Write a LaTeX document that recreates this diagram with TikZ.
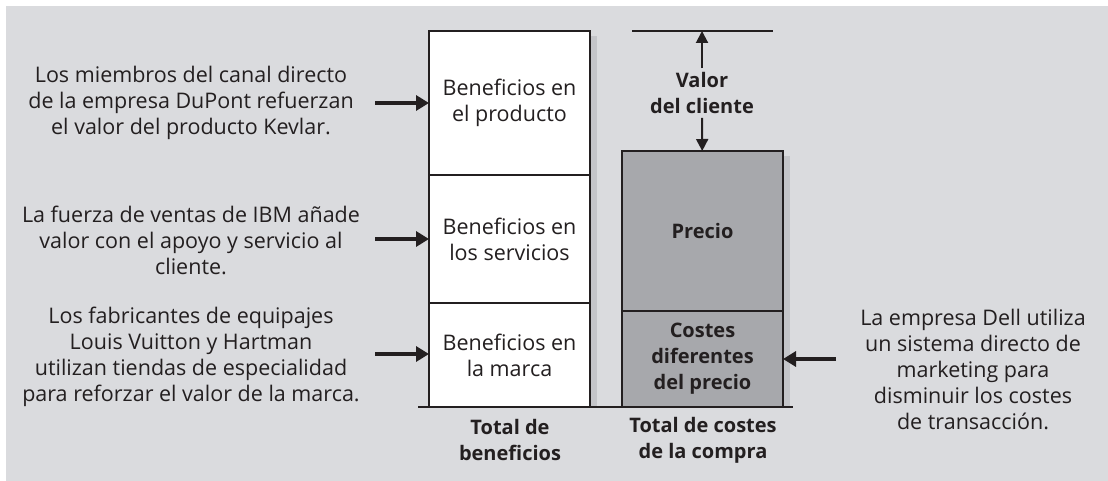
\documentclass[tikz,border=0pt]{standalone}
\usepackage{fontspec}
\setmainfont{Open Sans}
\usepackage{tikz}
\usetikzlibrary{arrows.meta, positioning, backgrounds}

\definecolor{ink}{RGB}{35,31,32}
\definecolor{bggray}{RGB}{218,219,222}
\definecolor{bglight}{RGB}{243,243,244}
\definecolor{costgray}{RGB}{167,168,172}
\definecolor{shadowgray}{RGB}{196,197,201}

\begin{document}
\begin{tikzpicture}[
    x=1pt, y=-1pt,
    font=\fontsize{21.5}{26}\selectfont,
    txt/.style={align=center, text=ink, inner sep=0pt},
    head/.style={txt, font=\fontsize{20}{26}\selectfont\bfseries},
    bar/.style={draw=ink, line width=1.6pt, outer sep=0pt, inner sep=0pt, minimum width=161pt, align=center, text=ink},
    benef/.style={bar, fill=white},
    coste/.style={bar, fill=costgray, font=\fontsize{20}{26}\selectfont\bfseries},
    flow/.style={-{Triangle[length=13pt, width=15pt]}, line width=3.6pt, draw=ink},
    gap/.style={-{Triangle[length=12pt, width=12pt]}, line width=2pt, draw=ink},
    rule/.style={draw=ink, line width=1.6pt},
    node distance=0pt
]
\useasboundingbox (0,0) rectangle (1108,481);

% columna de beneficios
\node[benef, minimum height=144pt, anchor=north west] (prod) at (429,31) {Beneficios en\\el producto};
\node[benef, minimum height=128pt, below=of prod] (serv) {Beneficios en\\los servicios};
\node[benef, minimum height=104pt, below=of serv] (marca) {Beneficios en\\la marca};

% columna de costes
\node[coste, minimum height=160pt, anchor=north west] (precio) at (622,151) {Precio};
\node[coste, minimum height=96pt, below=of precio] (costes) {Costes\\diferentes\\del precio};

\begin{pgfonlayer}{background}
\shade[left color=bggray, middle color=bglight, right color=bggray, shading angle=75] (6,7) rectangle (1108,481);
\fill[shadowgray] ([xshift=0.8pt, yshift=-5pt]prod.north east) rectangle ([xshift=7pt]marca.south east);
\fill[shadowgray] ([xshift=0.8pt, yshift=-5pt]precio.north east) rectangle ([xshift=7pt]costes.south east);
\end{pgfonlayer}

\draw[rule] ([xshift=-11pt]marca.south west) -- ([xshift=10pt]costes.south east);
\node[head] (totben) at (510,440) {Total de\\beneficios};
\node[head] (totcos) at (703,440) {Total de costes\\de la compra};

% valor del cliente
\coordinate (vtop) at (702,31);
\draw[rule] ([xshift=-70pt]vtop) -- ([xshift=71pt]vtop);
\node[head, inner sep=4pt] (valor) at (702,93) {Valor\\del cliente};
\draw[gap] (valor) -- (vtop);
\draw[gap] (valor) -- (precio);

% ejemplos
\node[txt] (dupont) at (191,103) {Los miembros del canal directo\\de la empresa DuPont refuerzan\\el valor del producto Kevlar.};
\node[txt] (ibm) at (191,240) {La fuerza de ventas de IBM añade\\valor con el apoyo y servicio al\\cliente.};
\node[txt] (vuitton) at (191,357) {Los fabricantes de equipajes\\Louis Vuitton y Hartman\\utilizan tiendas de especialidad\\para reforzar el valor de la marca.};
\node[txt] (dell) at (973,369) {La empresa Dell utiliza\\un sistema directo de\\marketing para\\disminuir los costes\\de transacción.};

\coordinate (a1) at (375,103);
\coordinate (a2) at (375,239);
\coordinate (a3) at (375,354);
\coordinate (a4) at (836,359);
\draw[flow] (a1) -- (a1 -| prod.west);
\draw[flow] (a2) -- (a2 -| serv.west);
\draw[flow] (a3) -- (a3 -| marca.west);
\draw[flow] (a4) -- (a4 -| costes.east);
\end{tikzpicture}
\end{document}
